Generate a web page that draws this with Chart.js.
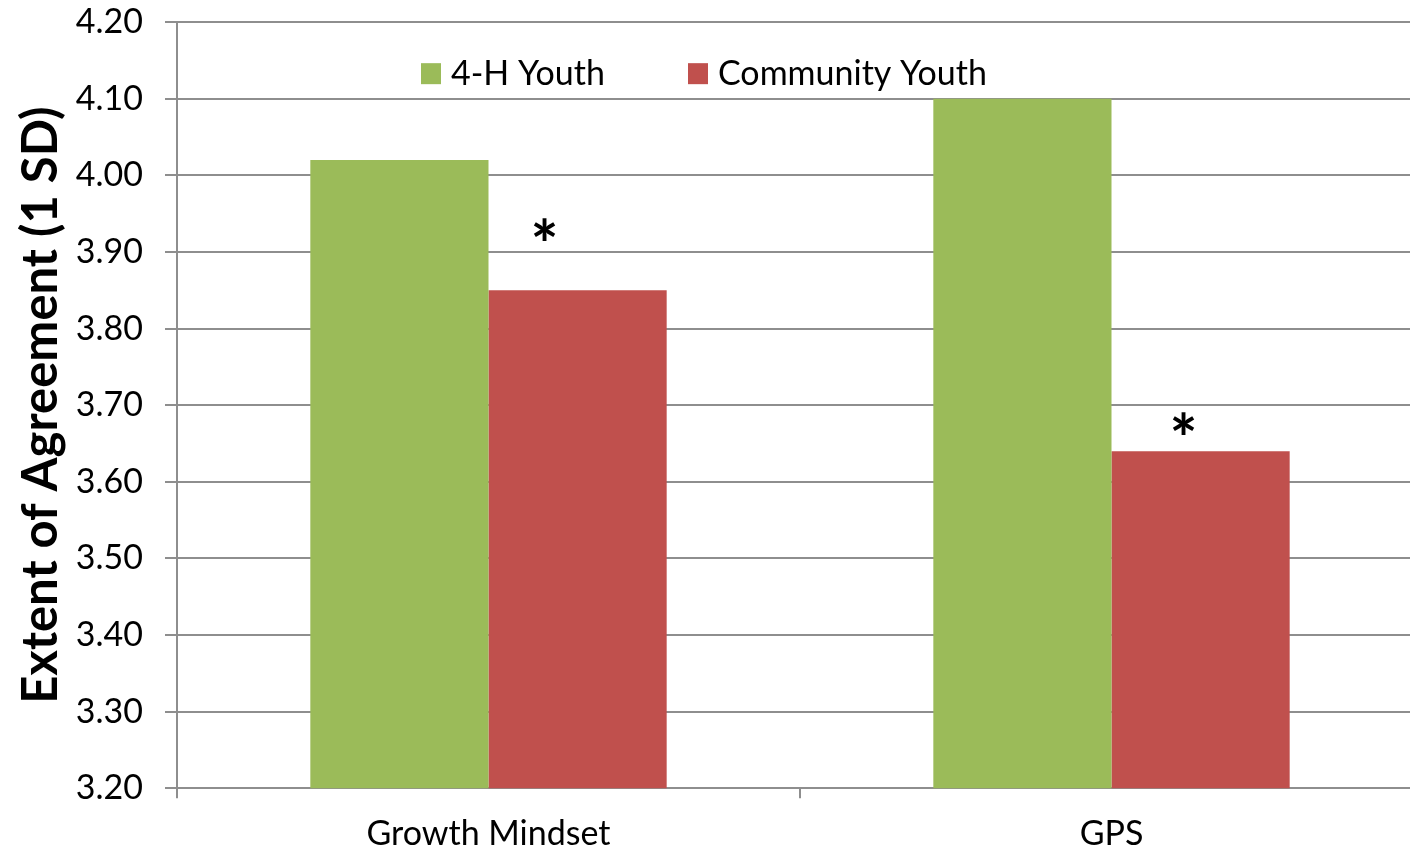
<!DOCTYPE html>
<html>
<head>
<meta charset="utf-8">
<script src="https://cdn.jsdelivr.net/npm/chart.js@4.4.1/dist/chart.umd.min.js"></script>
<style>
  html, body { margin: 0; padding: 0; background: #ffffff; overflow: hidden; }
  #wrap { width: 1423px; height: 849px; }
</style>
</head>
<body>
<div id="wrap"><canvas id="agreeChart"></canvas></div>
<script>
const categories = ['Growth Mindset', 'GPS'];
const youth4H = [4.02, 4.10];
const communityYouth = [3.85, 3.64];
const significant = [true, true];
const yTicks = ['3.20', '3.30', '3.40', '3.50', '3.60', '3.70', '3.80', '3.90', '4.00', '4.10', '4.20'];

const FONT = 'Lato, "Open Sans", sans-serif';
const GRID = '#8e8e8e';

// legend drawn inside the plot, between the top two gridlines
const insideLegend = {
    id: 'insideLegend',
    afterDraw(chart) {
        const ctx = chart.ctx;
        const area = chart.chartArea;
        const y = area.top + 51;
        let x = area.left + 244;
        ctx.save();
        ctx.font = '34px ' + FONT;
        ctx.textBaseline = 'middle';
        chart.data.datasets.forEach((ds, i) => {
            ctx.fillStyle = ds.backgroundColor;
            ctx.fillRect(x, y - 10, 20, 21);
            ctx.fillStyle = '#000';
            ctx.fillText(ds.label, x + 30, y + 1);
            x += 267;
        });
        ctx.restore();
    }
};

// asterisks over the community bars
const sigMarks = {
    id: 'sigMarks',
    afterDatasetsDraw(chart) {
        const ctx = chart.ctx;
        const meta = chart.getDatasetMeta(1);
        const shift = [[-33, -43], [-17, -9]];
        ctx.save();
        ctx.font = 'bold 66px ' + FONT;
        ctx.fillStyle = '#000';
        ctx.textAlign = 'center';
        ctx.textBaseline = 'middle';
        meta.data.forEach((bar, i) => {
            if (!significant[i]) return;
            ctx.fillText('*', bar.x + shift[i][0], bar.y + shift[i][1]);
        });
        ctx.restore();
    }
};

const ctx = document.getElementById('agreeChart').getContext('2d');

new Chart(ctx, {
    type: 'bar',
    data: {
        labels: categories,
        datasets: [{
            label: '4-H Youth',
            data: youth4H,
            backgroundColor: '#9bbb59',
            barPercentage: 1,
            categoryPercentage: 0.572
        }, {
            label: 'Community Youth',
            data: communityYouth,
            backgroundColor: '#c0504d',
            barPercentage: 1,
            categoryPercentage: 0.572
        }]
    },
    options: {
        responsive: true,
        maintainAspectRatio: false,
        animation: false,
        layout: {
            padding: { top: 0, right: 0, bottom: -20, left: 0 }
        },
        plugins: {
            legend: { display: false },
            tooltip: { enabled: false }
        },
        scales: {
            x: {
                grid: {
                    drawOnChartArea: false,
                    drawTicks: true,
                    tickLength: 10,
                    color: GRID,
                    lineWidth: 2
                },
                border: { color: GRID, width: 2 },
                ticks: {
                    color: '#000',
                    padding: 15,
                    font: { family: FONT, size: 34 }
                }
            },
            y: {
                min: 3.2,
                max: 4.2,
                afterFit(scale) { scale.width = 177; },
                afterBuildTicks(scale) {
                    scale.ticks = yTicks.map(t => ({ value: parseFloat(t) }));
                },
                ticks: {
                    color: '#000',
                    padding: 22,
                    // tiny line height keeps the top label from pushing the plot down
                    font: { family: FONT, size: 34, lineHeight: 0.01 },
                    callback: (v) => yTicks.find(t => Math.abs(parseFloat(t) - v) < 1e-6) || ''
                },
                grid: {
                    color: GRID,
                    lineWidth: 2,
                    tickLength: 12
                },
                border: { color: GRID, width: 2 },
                title: {
                    display: true,
                    text: 'Extent of Agreement (1 SD)',
                    color: '#000',
                    padding: { top: 12, bottom: 0 },
                    font: { family: FONT, size: 49, weight: 'bold' }
                }
            }
        }
    },
    plugins: [insideLegend, sigMarks]
});
</script>
</body>
</html>
